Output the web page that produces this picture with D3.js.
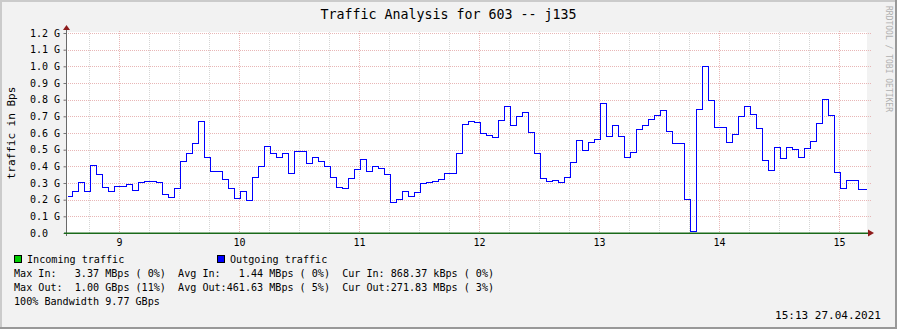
<!DOCTYPE html>
<html>
<head>
<meta charset="utf-8">
<script src="https://cdnjs.cloudflare.com/ajax/libs/d3/7.8.5/d3.min.js"></script>
<style>
  body { margin: 0; background: #fff; }
  svg text { font-family: "DejaVu Sans Mono", monospace; white-space: pre; }
</style>
</head>
<body>
<div id="chart"></div>
<script>
var title = 'Traffic Analysis for 603 -- j135',
    unitLabel = 'traffic in Bps',
    stamp = '15:13 27.04.2021',
    watermark = 'RRDTOOL / TOBI OETIKER';

// y ticks in GBps
var yTicks = [0, 0.1, 0.2, 0.3, 0.4, 0.5, 0.6, 0.7, 0.8, 0.9, 1.0, 1.1, 1.2];

// time window and sample step
var timeRange = [new Date(2021, 3, 27, 8, 34, 0), new Date(2021, 3, 27, 15, 14, 0)];
var firstStep = new Date(2021, 3, 27, 8, 36, 30),
    stepMinutes = 3;

// outgoing traffic, GBps, one value per step (first one is the partial step)
var outgoing = [
  0.222, 0.254, 0.306, 0.254, 0.408, 0.356, 0.276, 0.252, 0.282, 0.282,
  0.294, 0.258, 0.306, 0.312, 0.312, 0.306, 0.234, 0.216, 0.270, 0.432,
  0.480, 0.540, 0.672, 0.456, 0.372, 0.372, 0.324, 0.270, 0.210, 0.252,
  0.198, 0.336, 0.402, 0.522, 0.480, 0.456, 0.480, 0.360, 0.492, 0.492,
  0.420, 0.454, 0.434, 0.402, 0.336, 0.276, 0.270, 0.330, 0.384, 0.444,
  0.372, 0.402, 0.390, 0.356, 0.186, 0.204, 0.250, 0.222, 0.246, 0.298,
  0.306, 0.312, 0.324, 0.358, 0.358, 0.480, 0.654, 0.670, 0.666, 0.600,
  0.588, 0.576, 0.678, 0.762, 0.648, 0.702, 0.726, 0.608, 0.480, 0.330,
  0.312, 0.318, 0.304, 0.336, 0.426, 0.558, 0.498, 0.546, 0.564, 0.780,
  0.582, 0.648, 0.582, 0.456, 0.488, 0.624, 0.648, 0.684, 0.708, 0.738,
  0.612, 0.540, 0.540, 0.204, 0.012, 0.744, 1.004, 0.798, 0.636, 0.636,
  0.546, 0.594, 0.702, 0.762, 0.714, 0.630, 0.440, 0.378, 0.516, 0.450,
  0.516, 0.504, 0.456, 0.510, 0.552, 0.660, 0.804, 0.708, 0.366, 0.270,
  0.318, 0.318, 0.264
];

var legendNames = ['Incoming traffic', 'Outgoing traffic'],
    legendColors = ['#00cc00', '#0000ff'];

var statLines = [
  'Max In:   3.37 MBps ( 0%)  Avg In:   1.44 MBps ( 0%)  Cur In: 868.37 kBps ( 0%)',
  'Max Out:  1.00 GBps (11%)  Avg Out:461.63 MBps ( 5%)  Cur Out:271.83 MBps ( 3%)',
  '100% Bandwidth 9.77 GBps'
];

var width = 897,
    height = 329,
    plotL = 67,
    plotR = 867,
    plotT = 33,
    plotB = 233;

var svg = d3.select('#chart').append('svg')
    .attr('width', width)
    .attr('height', height)
    .style('display', 'block');

// background + shaded frame
svg.append('rect').attr('width', width).attr('height', height).attr('fill', '#f2f2f2');
svg.append('path').attr('d', 'M0,0H' + width + 'V2H2V' + height + 'H0Z').attr('fill', '#cbcbcb');
svg.append('path').attr('d', 'M' + width + ',0V' + height + 'H0V' + (height - 2) + 'H' + (width - 2) + 'V0Z').attr('fill', '#999999');

var x = d3.scaleTime().domain(timeRange).range([plotL, plotR]);
var y = d3.scaleLinear().domain([0, 1.2]).range([plotB, plotT]);

function px(v) { return Math.round(v) + 0.5; }

// canvas
svg.append('rect')
    .attr('x', plotL).attr('y', plotT - 1)
    .attr('width', plotR - plotL).attr('height', plotB - plotT + 1)
    .attr('fill', '#ffffff');

// minor vertical grid every 15 minutes, major every hour
var minor = d3.timeMinute.every(15).range(timeRange[0], timeRange[1])
    .filter(function(d) { return d.getMinutes() !== 0; });
var hours = d3.timeHour.every(1).range(timeRange[0], timeRange[1]);

var grid = svg.append('g').attr('shape-rendering', 'crispEdges');
grid.selectAll('.vminor').data(minor).enter().append('line')
    .attr('x1', function(d) { return px(x(d)); })
    .attr('x2', function(d) { return px(x(d)); })
    .attr('y1', plotB).attr('y2', plotT - 2)
    .attr('stroke', '#d6d6d6').attr('stroke-dasharray', '1,1');
grid.selectAll('.vmajor').data(hours).enter().append('line')
    .attr('x1', function(d) { return px(x(d)); })
    .attr('x2', function(d) { return px(x(d)); })
    .attr('y1', plotB + 1).attr('y2', plotT - 2)
    .attr('stroke', '#e8b6b6').attr('stroke-dasharray', '1,1');
grid.selectAll('.hmajor').data(yTicks.slice(1)).enter().append('line')
    .attr('x1', plotL - 3).attr('x2', plotR + 4)
    .attr('y1', function(d) { return px(y(d)); })
    .attr('y2', function(d) { return px(y(d)); })
    .attr('stroke', '#e8b6b6').attr('stroke-dasharray', '1,1');

// outgoing step line
var pts = outgoing.map(function(v, i) {
  var t = i === 0 ? timeRange[0] : d3.timeMinute.offset(firstStep, (i - 1) * stepMinutes);
  return [t, v];
});
pts.push([new Date(2021, 3, 27, 15, 13, 20), outgoing[outgoing.length - 1]]);

svg.append('path')
    .datum(pts)
    .attr('fill', 'none')
    .attr('stroke', legendColors[1])
    .attr('stroke-width', 1)
    .attr('shape-rendering', 'crispEdges')
    .attr('d', d3.line()
        .x(function(d) { return px(x(d[0])); })
        .y(function(d) { return px(y(d[1])); })
        .curve(d3.curveStepAfter));

// axes
var yAxis = svg.append('g')
    .attr('transform', 'translate(' + (plotL - 0.5) + ',0)')
    .call(d3.axisLeft(y).tickValues(yTicks).tickSize(3).tickFormat(''));
yAxis.select('.domain').remove();
yAxis.selectAll('.tick line').attr('stroke', '#777');

svg.append('line')
    .attr('x1', plotL - 0.5).attr('x2', plotL - 0.5)
    .attr('y1', plotB + 3).attr('y2', plotT - 5)
    .attr('stroke', '#6a6a6a');

// incoming traffic sits on the zero line
svg.append('line')
    .attr('x1', plotL - 3).attr('x2', plotR + 1)
    .attr('y1', plotB + 0.3).attr('y2', plotB + 0.3)
    .attr('stroke', '#1a6a1a').attr('stroke-width', 1.4);

// arrows
svg.append('path')
    .attr('d', 'M' + (plotL - 4) + ',' + (plotT - 3) + 'L' + (plotL - 0.5) + ',' + (plotT - 8) + 'L' + (plotL + 3) + ',' + (plotT - 3) + 'Z')
    .attr('fill', '#8e1c1c');
svg.append('path')
    .attr('d', 'M' + (plotR + 1) + ',' + (plotB - 3.5) + 'L' + (plotR + 7) + ',' + plotB + 'L' + (plotR + 1) + ',' + (plotB + 3.5) + 'Z')
    .attr('fill', '#8e1c1c');

// y tick labels
svg.append('g').selectAll('text').data(yTicks).enter().append('text')
    .attr('x', 30)
    .attr('y', function(d) { return y(d) + 3.5; })
    .attr('font-size', '10px')
    .text(function(d) { return d === 0 ? '0.0' : d3.format('.1f')(d) + ' G'; });

// x tick labels
svg.append('g').selectAll('text').data(hours).enter().append('text')
    .attr('x', function(d) { return x(d) + 0.5; })
    .attr('y', plotB + 12.5)
    .attr('text-anchor', 'middle')
    .attr('font-size', '10px')
    .text(d3.timeFormat('%-H'));

// title
svg.append('text')
    .attr('x', 448.5).attr('y', 18.5)
    .attr('text-anchor', 'middle')
    .attr('font-size', '13.3px')
    .text(title);

// unit label
svg.append('text')
    .attr('transform', 'translate(15,133) rotate(-90)')
    .attr('text-anchor', 'middle')
    .attr('font-size', '11px')
    .text(unitLabel);

// watermark
svg.append('text')
    .attr('transform', 'translate(886,59) rotate(90)')
    .attr('text-anchor', 'middle')
    .attr('font-size', '8px')
    .attr('fill', '#b0b0b0')
    .text(watermark);

// legend
var legend = svg.append('g');
var keyX = [14, 217];
legendNames.forEach(function(name, i) {
  legend.append('rect')
      .attr('x', keyX[i] + 0.5).attr('y', 255.5)
      .attr('width', 7).attr('height', 7)
      .attr('fill', legendColors[i]).attr('stroke', '#000');
  legend.append('text')
      .attr('x', keyX[i] + 13).attr('y', 263)
      .attr('font-size', '10.1px')
      .text(name);
});
statLines.forEach(function(s, i) {
  legend.append('text')
      .attr('x', 14).attr('y', 277 + i * 14)
      .attr('font-size', '10.1px')
      .text(s);
});

svg.append('text')
    .attr('x', 881).attr('y', 319)
    .attr('text-anchor', 'end')
    .attr('font-size', '11px')
    .text(stamp);
</script>
</body>
</html>
